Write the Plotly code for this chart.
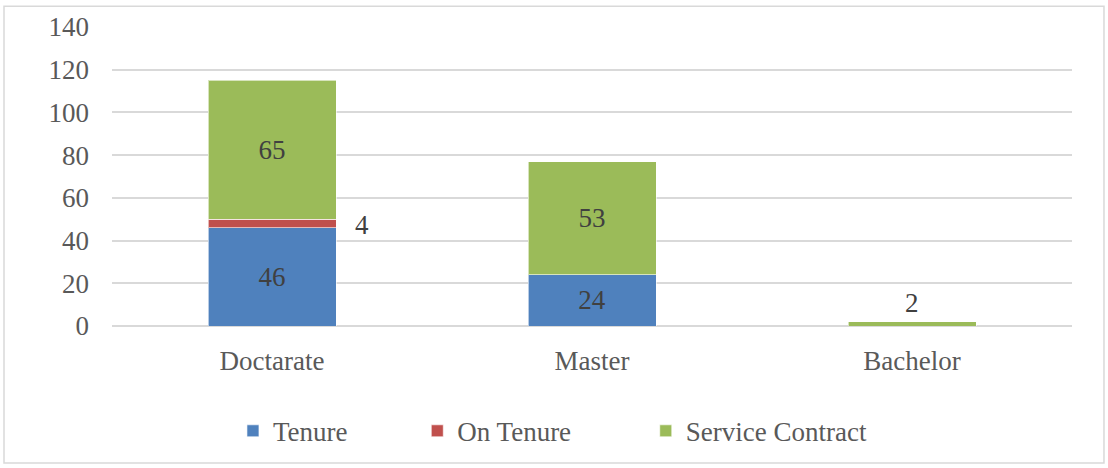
import plotly.graph_objects as go

# data
degrees = ['Doctarate', 'Master', 'Bachelor']
tenure = [46, 24, 0]
on_tenure = [4, 0, 0]
service_contract = [65, 53, 2]

FONT = 'Liberation Serif'
TXT = '#595959'
GRID = '#D9D9D9'
FS = 27

fig = go.Figure()

def lbl(vals, skip):
    return [str(v) if (v and i not in skip) else '' for i, v in enumerate(vals)]

series = [
    ('Tenure', tenure, '#4F81BD', 'legend', lbl(tenure, [])),
    ('On Tenure', on_tenure, '#C0504D', 'legend2', ['' for _ in on_tenure]),
    ('Service Contract', service_contract, '#9BBB59', 'legend3', lbl(service_contract, [2])),
]
for name, vals, col, leg, txt in series:
    fig.add_trace(go.Bar(
        x=degrees, y=vals, name=name, legend=leg,
        marker=dict(color=col, line=dict(color='rgba(255,255,255,0.6)', width=1)),
        text=txt, textposition='inside', insidetextanchor='middle',
        textfont=dict(family=FONT, size=FS, color='#404040'),
        cliponaxis=False,
    ))

# labels placed beside / above small segments
fig.add_annotation(x=degrees[0], y=tenure[0] + on_tenure[0] / 2, text=str(on_tenure[0]),
                   showarrow=False, xshift=90, yshift=-2,
                   font=dict(family=FONT, size=FS, color='#404040'))
top = tenure[2] + on_tenure[2] + service_contract[2]
fig.add_annotation(x=degrees[2], y=top, text=str(service_contract[2]),
                   showarrow=False, yanchor='bottom', yshift=2,
                   font=dict(family=FONT, size=FS, color='#404040'))

# outer chart border
fig.add_shape(type='rect', xref='paper', yref='paper',
              x0=-0.1125, x1=1.0333, y0=-0.4585, y1=1.0698,
              line=dict(color=GRID, width=1.5), layer='below')

legfont = dict(family=FONT, size=FS, color=TXT)
legbase = dict(orientation='h', yanchor='middle', y=-0.352, xanchor='left',
               font=legfont, bgcolor='rgba(0,0,0,0)')

fig.update_layout(
    barmode='stack',
    bargap=0.6,
    width=1108, height=468,
    margin=dict(l=112, r=36, t=25, b=142),
    plot_bgcolor='white', paper_bgcolor='white',
    font=dict(family=FONT, color=TXT),
    showlegend=True,
    legend=dict(legbase, x=0.126),
    legend2=dict(legbase, x=0.318),
    legend3=dict(legbase, x=0.556),
    xaxis=dict(showgrid=False, showline=False, ticks='',
               tickfont=dict(family=FONT, size=FS, color=TXT),
               ticklabelstandoff=16),
    yaxis=dict(range=[0, 140], dtick=20, showgrid=True, gridcolor=GRID,
               gridwidth=1.5, zeroline=True, zerolinecolor=GRID, zerolinewidth=1.5,
               ticks='', tickfont=dict(family=FONT, size=FS, color=TXT),
               ticklabelstandoff=22, fixedrange=True),
)

fig.write_html('out.html', config={'displayModeBar': False},
               post_script="document.body.style.margin='0';")
